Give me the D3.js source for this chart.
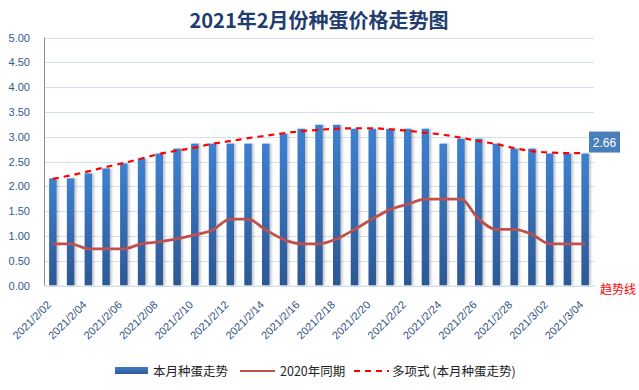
<!DOCTYPE html>
<html>
<head>
<meta charset="utf-8">
<script src="https://cdn.jsdelivr.net/npm/d3@7"></script>
<style>
  html, body { margin: 0; padding: 0; background: #fff; }
  svg { display: block; font-family: "Noto Sans CJK SC", "Liberation Sans", sans-serif; }
</style>
</head>
<body>
<div id="chart"></div>
<script>
// Catégories (dates) et séries
const dates = [
  '2021/2/02', '2021/2/03', '2021/2/04', '2021/2/05', '2021/2/06', '2021/2/07', '2021/2/08',
  '2021/2/09', '2021/2/10', '2021/2/11', '2021/2/12', '2021/2/13', '2021/2/14', '2021/2/15',
  '2021/2/16', '2021/2/17', '2021/2/18', '2021/2/19', '2021/2/20', '2021/2/21', '2021/2/22',
  '2021/2/23', '2021/2/24', '2021/2/25', '2021/2/26', '2021/2/27', '2021/2/28', '2021/3/01',
  '2021/3/02', '2021/3/03', '2021/3/04'
];
const thisMonth = [2.16, 2.16, 2.26, 2.36, 2.46, 2.56, 2.66, 2.76, 2.86, 2.86, 2.86, 2.86, 2.86, 3.06, 3.16,
  3.24, 3.24, 3.16, 3.16, 3.16, 3.16, 3.16, 2.86, 2.96, 2.96, 2.86, 2.76, 2.76, 2.66, 2.66, 2.66];
const lastYear = [0.84, 0.84, 0.74, 0.74, 0.74, 0.84, 0.88, 0.94, 1.02, 1.12, 1.34, 1.34, 1.12, 0.93, 0.84,
  0.84, 0.94, 1.13, 1.34, 1.53, 1.64, 1.74, 1.74, 1.74, 1.34, 1.13, 1.13, 1.03, 0.84, 0.84, 0.84];
const trend = [2.15, 2.22, 2.30, 2.39, 2.47, 2.56, 2.65, 2.72, 2.78, 2.86, 2.91, 2.97, 3.02, 3.07, 3.11,
  3.14, 3.16, 3.17, 3.17, 3.15, 3.12, 3.08, 3.04, 2.98, 2.91, 2.85, 2.77, 2.71, 2.68, 2.67, 2.67];
const yTicks = [0, 0.5, 1, 1.5, 2, 2.5, 3, 3.5, 4, 4.5, 5];
const title = '2021年2月份种蛋价格走势图';
const seriesNames = ['本月种蛋走势', '2020年同期', '多项式 (本月种蛋走势)'];

const width = 639, height = 390;
const plot = { left: 44, right: 594, top: 37.5, bottom: 285.5 };

const svg = d3.select('#chart')
  .append('svg')
  .attr('width', width)
  .attr('height', height);

const defs = svg.append('defs');
const grad = defs.append('linearGradient')
  .attr('id', 'barGrad')
  .attr('x1', '0%').attr('y1', '0%')
  .attr('x2', '0%').attr('y2', '100%');
grad.append('stop').attr('offset', '0%').attr('stop-color', '#3E80D0');
grad.append('stop').attr('offset', '100%').attr('stop-color', '#2C5894');

const legGrad = defs.append('linearGradient')
  .attr('id', 'legGrad')
  .attr('x1', '0%').attr('y1', '0%')
  .attr('x2', '0%').attr('y2', '100%');
legGrad.append('stop').attr('offset', '0%').attr('stop-color', '#3E7CC8');
legGrad.append('stop').attr('offset', '100%').attr('stop-color', '#2F5B98');

const shadow = defs.append('filter')
  .attr('id', 'shadow')
  .attr('x', '-50%').attr('y', '-5%')
  .attr('width', '200%').attr('height', '110%');
shadow.append('feDropShadow')
  .attr('dx', 2).attr('dy', 0)
  .attr('stdDeviation', 1.2)
  .attr('flood-color', '#000')
  .attr('flood-opacity', 0.22);

// Échelles
const x = d3.scaleBand()
  .domain(dates)
  .range([plot.left, plot.right]);

const y = d3.scaleLinear()
  .domain([0, 5])
  .range([plot.bottom, plot.top]);

const cx = d => x(d) + x.bandwidth() / 2;

// Titre
svg.append('text')
  .attr('x', 319)
  .attr('y', 28)
  .attr('text-anchor', 'middle')
  .attr('font-size', 20)
  .attr('font-weight', 'bold')
  .attr('fill', '#1F3D6E')
  .text(title);

// Grille horizontale
svg.append('g')
  .selectAll('line')
  .data(yTicks)
  .join('line')
  .attr('x1', plot.left)
  .attr('x2', plot.right)
  .attr('y1', d => Math.round(y(d)) + 0.5)
  .attr('y2', d => Math.round(y(d)) + 0.5)
  .attr('stroke', '#D3E0EF')
  .attr('stroke-width', 1);

// Axe Y
const yAxis = d3.axisLeft(y)
  .tickValues(yTicks)
  .tickFormat(d3.format('.2f'))
  .tickSize(0)
  .tickPadding(14);

svg.append('g')
  .attr('transform', `translate(${plot.left},0)`)
  .call(yAxis)
  .call(g => g.select('.domain').remove())
  .call(g => g.selectAll('text')
    .attr('font-family', '"Liberation Sans", sans-serif')
    .attr('font-size', 11)
    .attr('fill', '#35598F'));

svg.append('line')
  .attr('x1', plot.left + 0.5).attr('x2', plot.left + 0.5)
  .attr('y1', plot.top).attr('y2', plot.bottom)
  .attr('stroke', '#8C8C8C');

// Barres
const barW = 7.5;
svg.append('g')
  .selectAll('rect')
  .data(dates.map((d, i) => ({ date: d, value: thisMonth[i] })))
  .join('rect')
  .attr('x', d => cx(d.date) - barW / 2)
  .attr('y', d => y(d.value))
  .attr('width', barW)
  .attr('height', d => y(0) - y(d.value))
  .attr('fill', 'url(#barGrad)')
  .attr('filter', 'url(#shadow)');

// Axe X
const xAxis = d3.axisBottom(x)
  .tickValues(dates.filter((d, i) => i % 2 === 0))
  .tickSize(0)
  .tickPadding(0);

svg.append('g')
  .attr('transform', `translate(0,${plot.bottom})`)
  .call(xAxis)
  .call(g => g.select('.domain').attr('stroke', '#D3E0EF'))
  .call(g => g.selectAll('text')
    .attr('font-family', '"Liberation Sans", sans-serif')
    .attr('font-size', 11)
    .attr('fill', '#2F5185')
    .attr('text-anchor', 'end')
    .attr('dy', 0)
    .attr('transform', 'translate(-1,20) rotate(-45)'));

// Ligne 2020
const line = d3.line()
  .x(d => cx(d.date))
  .y(d => y(d.value))
  .curve(d3.curveMonotoneX);

svg.append('path')
  .datum(dates.map((d, i) => ({ date: d, value: lastYear[i] })))
  .attr('d', line)
  .attr('fill', 'none')
  .attr('stroke', '#C0504D')
  .attr('stroke-width', 2.8)
  .attr('stroke-linejoin', 'round');

// Tendance polynomiale
svg.append('path')
  .datum(dates.map((d, i) => ({ date: d, value: trend[i] })))
  .attr('d', line)
  .attr('fill', 'none')
  .attr('stroke', '#FF0000')
  .attr('stroke-width', 2.2)
  .attr('stroke-dasharray', '6,5');

// Étiquette dernière valeur
const last = dates.length - 1;
const lbl = svg.append('g')
  .attr('transform', `translate(589,${y(thisMonth[last]) - 22})`);
lbl.append('rect')
  .attr('width', 31)
  .attr('height', 21)
  .attr('fill', '#4A7EBB');
lbl.append('text')
  .attr('x', 15.5)
  .attr('y', 15)
  .attr('text-anchor', 'middle')
  .attr('font-family', '"Liberation Sans", sans-serif')
  .attr('font-size', 12)
  .attr('fill', '#fff')
  .text(thisMonth[last].toFixed(2));

svg.append('text')
  .attr('x', 600)
  .attr('y', 294)
  .attr('font-size', 12)
  .attr('fill', '#FF0000')
  .text('趋势线');

// Légende
const legend = svg.append('g').attr('transform', 'translate(0,371)');
legend.append('rect')
  .attr('x', 115).attr('y', -4)
  .attr('width', 33).attr('height', 7)
  .attr('fill', 'url(#legGrad)');
legend.append('line')
  .attr('x1', 240).attr('x2', 275)
  .attr('stroke', '#C0504D')
  .attr('stroke-width', 1.8);
legend.append('line')
  .attr('x1', 354).attr('x2', 389)
  .attr('stroke', '#FF0000')
  .attr('stroke-width', 2)
  .attr('stroke-dasharray', '6,5');

legend.selectAll('text')
  .data(seriesNames.map((n, i) => ({ name: n, x: [153, 280, 392][i] })))
  .join('text')
  .attr('x', d => d.x)
  .attr('y', 4.5)
  .attr('font-size', 12.5)
  .attr('fill', '#222')
  .text(d => d.name);
</script>
</body>
</html>
